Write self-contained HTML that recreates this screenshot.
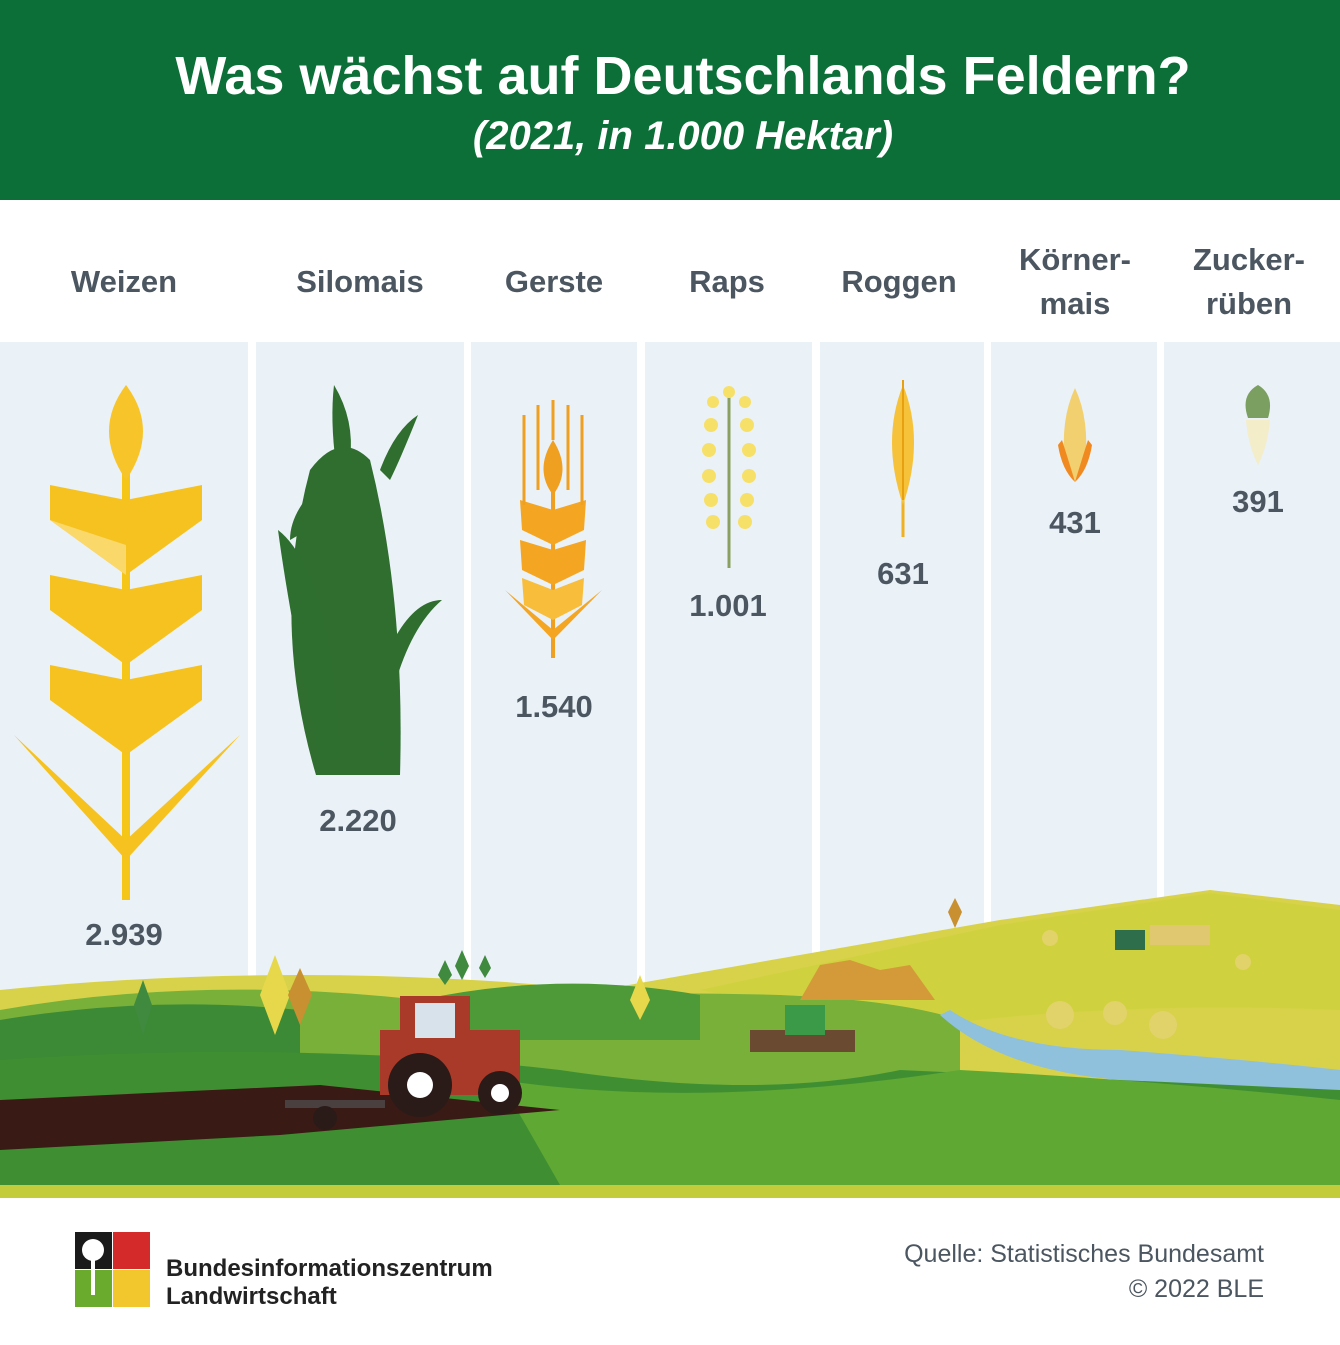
<!DOCTYPE html>
<html><head><meta charset="utf-8"><style>
html,body{margin:0;padding:0;background:#fff;}
body{width:1340px;height:1340px;overflow:hidden;font-family:"Liberation Sans","DejaVu Sans",sans-serif;}
</style></head><body>
<svg width="1340" height="1340" viewBox="0 0 1340 1340" xmlns="http://www.w3.org/2000/svg">
<rect width="1340" height="1340" fill="#fff"/>
<rect width="1340" height="200" fill="#0b6f37"/>
<text x="683" y="94" text-anchor="middle" fill="#fff" font-size="54" font-weight="bold" font-family="Liberation Sans, sans-serif">Was wächst auf Deutschlands Feldern?</text>
<text x="683" y="149" text-anchor="middle" fill="#fff" font-size="40" font-style="italic" font-weight="bold" font-family="Liberation Sans, sans-serif">(2021, in 1.000 Hektar)</text>

<g fill="#eaf1f7">
<rect x="0" y="342" width="248" height="700"/>
<rect x="256" y="342" width="208" height="700"/>
<rect x="471" y="342" width="166" height="700"/>
<rect x="645" y="342" width="167" height="700"/>
<rect x="820" y="342" width="164" height="700"/>
<rect x="991" y="342" width="166" height="700"/>
<rect x="1164" y="342" width="176" height="700"/>
</g>

<g fill="#4b5660" font-size="31" font-weight="bold" text-anchor="middle" font-family="Liberation Sans, sans-serif">
<text x="124" y="292">Weizen</text>
<text x="360" y="292">Silomais</text>
<text x="554" y="292">Gerste</text>
<text x="727" y="292">Raps</text>
<text x="899" y="292">Roggen</text>
<text x="1075" y="270">Körner-</text>
<text x="1075" y="314">mais</text>
<text x="1249" y="270">Zucker-</text>
<text x="1249" y="314">rüben</text>
</g>

<g>
<line x1="126" y1="420" x2="126" y2="900" stroke="#f5c518" stroke-width="8"/>
<path d="M126 385 Q160 430 126 480 Q92 430 126 385Z" fill="#f7c52a"/>
<path d="M126 500 L50 485 L50 520 L126 575Z M126 500 L202 485 L202 520 L126 575Z" fill="#f6c21f"/>
<path d="M50 520 L126 575 L126 545 Z" fill="#fbd86a"/>
<path d="M126 590 L50 575 L50 610 L126 665Z M126 590 L202 575 L202 610 L126 665Z" fill="#f6c21f"/>
<path d="M126 680 L50 665 L50 700 L126 755Z M126 680 L202 665 L202 700 L126 755Z" fill="#f6c21f"/>
<path d="M126 840 L14 735 L126 860 L240 735Z" fill="#f6c21f"/>
</g>
<g fill="#2f6e2f">
<path d="M316 775 Q270 620 310 470 Q340 430 370 460 Q405 600 400 775Z"/>
<path d="M320 760 Q290 620 278 530 Q330 570 340 760Z" fill="#2e6f30"/>
<path d="M370 700 Q400 600 442 600 Q395 640 380 760Z"/>
<path d="M334 385 Q355 420 350 460 L336 465 Q330 420 334 385Z"/>
<path d="M380 470 Q395 430 418 415 Q400 460 390 480Z"/>
<path d="M305 500 Q290 520 290 540 L325 520Z"/>
</g>
<g>
<line x1="553" y1="460" x2="553" y2="658" stroke="#f0a020" stroke-width="4"/>
<path d="M553 440 Q572 470 553 495 Q534 470 553 440Z" fill="#f0a020"/>
<path d="M553 510 L520 500 L522 530 L553 545Z M553 510 L586 500 L584 530 L553 545Z" fill="#f4a623"/>
<path d="M553 550 L520 540 L522 570 L553 585Z M553 550 L586 540 L584 570 L553 585Z" fill="#f4a623"/>
<path d="M553 590 L522 578 L524 605 L553 620Z M553 590 L584 578 L582 605 L553 620Z" fill="#f8bd3a"/>
<path d="M553 630 L505 590 L553 640 L602 590Z" fill="#f4a623"/>
<g stroke="#f0a020" stroke-width="3"><line x1="524" y1="415" x2="524" y2="505"/><line x1="538" y1="405" x2="538" y2="490"/><line x1="568" y1="405" x2="568" y2="490"/><line x1="582" y1="415" x2="582" y2="505"/><line x1="553" y1="400" x2="553" y2="440"/></g>
</g>
<g>
<line x1="729" y1="395" x2="729" y2="568" stroke="#8aa060" stroke-width="3"/>
<g fill="#f7e068">
<circle cx="729" cy="392" r="6"/><circle cx="713" cy="402" r="6"/><circle cx="745" cy="402" r="6"/>
<circle cx="711" cy="425" r="7"/><circle cx="747" cy="425" r="7"/>
<circle cx="709" cy="450" r="7"/><circle cx="749" cy="450" r="7"/>
<circle cx="709" cy="476" r="7"/><circle cx="749" cy="476" r="7"/>
<circle cx="711" cy="500" r="7"/><circle cx="747" cy="500" r="7"/>
<circle cx="713" cy="522" r="7"/><circle cx="745" cy="522" r="7"/>
</g></g>
<g>
<line x1="903" y1="480" x2="903" y2="537" stroke="#f0b020" stroke-width="3"/>
<path d="M903 385 Q925 440 903 505 Q881 440 903 385Z" fill="#f5c23a"/>
<line x1="903" y1="380" x2="903" y2="500" stroke="#e8a010" stroke-width="2"/>
</g>
<g>
<path d="M1075 388 Q1090 420 1085 465 L1075 482 L1065 465 Q1060 420 1075 388Z" fill="#f2d070"/>
<path d="M1062 440 Q1070 465 1075 482 Q1062 470 1058 445Z" fill="#f08a20"/>
<path d="M1088 440 Q1080 465 1075 482 Q1088 470 1092 445Z" fill="#f08a20"/>
</g>
<g>
<path d="M1258 385 Q1275 395 1268 418 L1248 418 Q1240 395 1258 385Z" fill="#7a9f60"/>
<path d="M1246 420 L1270 420 Q1268 445 1258 465 Q1248 445 1246 420Z" fill="#f3edc9"/>
</g>

<g fill="#4b5660" font-size="31" font-weight="bold" text-anchor="middle" font-family="Liberation Sans, sans-serif">
<text x="124" y="945">2.939</text>
<text x="358" y="831">2.220</text>
<text x="554" y="717">1.540</text>
<text x="728" y="616">1.001</text>
<text x="903" y="584">631</text>
<text x="1075" y="533">431</text>
<text x="1258" y="512">391</text>
</g>

<path d="M0 990 Q300 960 600 990 L1000 920 L1210 890 L1340 905 L1340 1185 L0 1185Z" fill="#d7d24a"/>
<path d="M700 990 L1000 925 L1210 893 L1340 910 L1340 1010 Q1100 1000 900 1030Z" fill="#cfd23e"/>
<path d="M0 1010 Q200 975 420 1000 Q600 990 780 995 Q900 1000 960 1020 L960 1185 L0 1185Z" fill="#78b03a"/>
<path d="M0 1020 Q150 995 300 1010 L300 1060 L0 1070Z" fill="#3c8a35"/>
<path d="M420 1000 Q560 970 700 995 L700 1040 L420 1040Z" fill="#4e9a38"/>
<path d="M820 965 L850 960 L880 970 L910 965 L935 1000 L800 1000Z" fill="#d49a3a"/>
<path d="M950 1010 Q1010 1050 1120 1050 Q1250 1060 1340 1070 L1340 1095 Q1220 1090 1120 1080 Q1000 1070 940 1015Z" fill="#8fc0dc"/>
<path d="M0 1060 Q300 1040 560 1070 Q760 1100 900 1070 L1340 1090 L1340 1185 L0 1185Z" fill="#3f8f32"/>
<path d="M500 1080 Q700 1110 960 1070 Q1150 1080 1340 1100 L1340 1185 L560 1185Z" fill="#60a834"/>
<path d="M0 1100 L320 1085 L560 1110 L280 1135 L0 1150Z" fill="#3a1a15"/>
<path d="M0 1185 L1340 1185 L1340 1198 L0 1198Z" fill="#c3cc3a"/>
<g>
<rect x="380" y="1030" width="140" height="65" fill="#a93a2a"/>
<rect x="400" y="996" width="70" height="50" fill="#a93a2a"/>
<rect x="415" y="1003" width="40" height="35" fill="#d8e2ea"/>
<circle cx="420" cy="1085" r="32" fill="#2a1a18"/><circle cx="420" cy="1085" r="13" fill="#fff"/>
<circle cx="500" cy="1093" r="22" fill="#2a1a18"/><circle cx="500" cy="1093" r="9" fill="#fff"/>
<rect x="285" y="1100" width="100" height="8" fill="#4a4040"/>
<circle cx="325" cy="1118" r="12" fill="#2a1a18"/>
</g>
<rect x="750" y="1030" width="105" height="22" fill="#6a4a30"/>
<rect x="785" y="1005" width="40" height="30" fill="#3a9a48"/>
<rect x="1150" y="925" width="60" height="20" fill="#e0c870"/>
<rect x="1115" y="930" width="30" height="20" fill="#2e6e4a"/>
<g fill="#e2d26a"><circle cx="1060" cy="1015" r="14"/><circle cx="1115" cy="1013" r="12"/><circle cx="1163" cy="1025" r="14"/><circle cx="1050" cy="938" r="8"/><circle cx="1243" cy="962" r="8"/></g>
<g fill="#e6d84a"><path d="M275 955 L290 995 L275 1035 L260 995Z"/><path d="M640 975 L650 1000 L640 1020 L630 1000Z"/></g>
<g fill="#c89030"><path d="M300 968 L312 995 L300 1025 L288 995Z"/><path d="M955 898 L962 912 L955 928 L948 912Z"/></g>
<g fill="#3f8a3f"><path d="M143 980 L152 1005 L143 1035 L134 1005Z"/><path d="M445 960 L452 975 L445 985 L438 975Z"/><path d="M462 950 L469 966 L462 980 L455 966Z"/><path d="M485 955 L491 968 L485 978 L479 968Z"/></g>

<g>
<rect x="75" y="1232" width="75" height="75" fill="#fff"/>
<rect x="75" y="1232" width="37" height="37" fill="#1a1a1a"/>
<rect x="113" y="1232" width="37" height="37" fill="#d42a2a"/>
<rect x="75" y="1270" width="37" height="37" fill="#6aab2e"/>
<rect x="113" y="1270" width="37" height="37" fill="#f2c72e"/>
<circle cx="93" cy="1250" r="11" fill="#fff"/>
<rect x="91" y="1255" width="4" height="40" fill="#fff"/>
</g>
<g fill="#222" font-size="24" font-weight="bold" font-family="Liberation Sans, sans-serif">
<text x="166" y="1276">Bundesinformationszentrum</text>
<text x="166" y="1304">Landwirtschaft</text>
</g>
<g fill="#4b5660" font-size="25" text-anchor="end" font-family="Liberation Sans, sans-serif">
<text x="1264" y="1262">Quelle: Statistisches Bundesamt</text>
<text x="1264" y="1297">© 2022 BLE</text>
</g>
</svg>
</body></html>
